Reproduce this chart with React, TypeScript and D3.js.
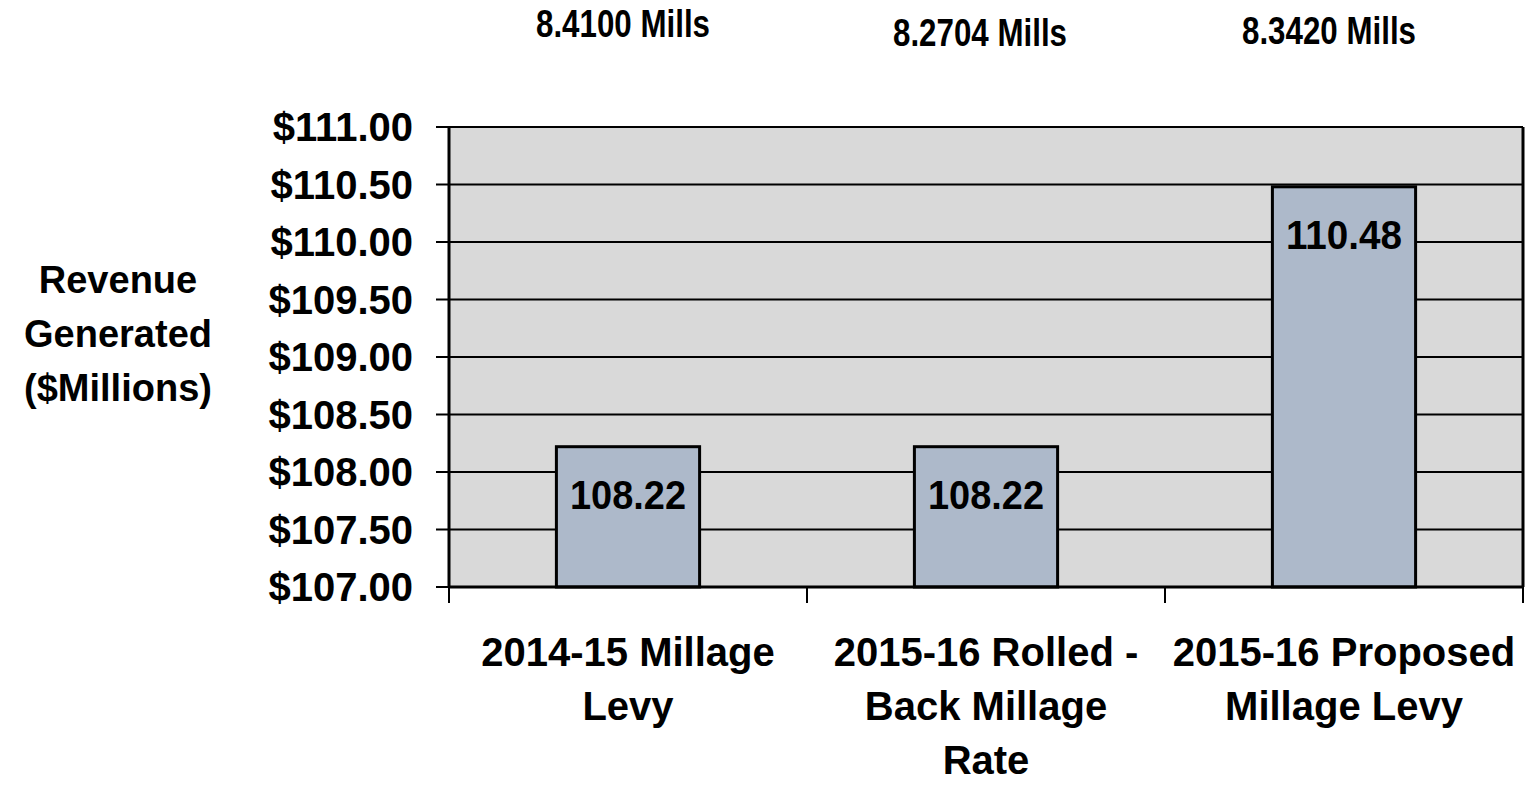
import React, { useEffect, useRef } from 'react';
import * as d3 from 'd3';

const categories = [
  ['2014-15 Millage', 'Levy'],
  ['2015-16 Rolled -', 'Back Millage', 'Rate'],
  ['2015-16 Proposed', 'Millage Levy'],
];
const revenue = [108.22, 108.22, 110.48];
const millRates = ['8.4100 Mills', '8.2704 Mills', '8.3420 Mills'];
const yTicks = [107, 107.5, 108, 108.5, 109, 109.5, 110, 110.5, 111];
const yTitle = ['Revenue', 'Generated', '($Millions)'];

const FONT = '"Liberation Sans", Arial, sans-serif';

const App = () => {
  const ref = useRef<SVGSVGElement>(null);

  useEffect(() => {
    const svg = d3.select(ref.current);
    svg.selectAll('*').remove();

    const width = 1530;
    const height = 785;
    const margin = { top: 127, right: 7, bottom: 198, left: 449 };

    svg.attr('width', width).attr('height', height);

    const x = d3.scaleBand<number>()
      .domain(d3.range(categories.length))
      .range([margin.left, width - margin.right])
      .paddingInner(0.6)
      .paddingOuter(0.3);

    const y = d3.scaleLinear()
      .domain([107, 111])
      .range([height - margin.bottom, margin.top]);

    const step = x.step();
    const x0 = margin.left;
    const x1 = width - margin.right;

    // plot background
    svg.append('rect')
      .attr('x', x0)
      .attr('y', y(111))
      .attr('width', x1 - x0)
      .attr('height', y(107) - y(111))
      .attr('fill', '#d9d9d9');

    // gridlines + y ticks
    svg.append('g')
      .selectAll('line')
      .data(yTicks)
      .join('line')
      .attr('x1', x0 - 13)
      .attr('x2', x1)
      .attr('y1', d => y(d))
      .attr('y2', d => y(d))
      .attr('stroke', '#000')
      .attr('stroke-width', 2);

    svg.append('g')
      .selectAll('text')
      .data(yTicks)
      .join('text')
      .attr('x', 413)
      .attr('y', d => y(d))
      .attr('dy', '0.36em')
      .attr('text-anchor', 'end')
      .attr('font-family', FONT)
      .attr('font-weight', 'bold')
      .attr('font-size', 40)
      .text(d => `$${d.toFixed(2)}`);

    // right border
    svg.append('line')
      .attr('x1', x1).attr('x2', x1)
      .attr('y1', y(111)).attr('y2', y(107))
      .attr('stroke', '#000').attr('stroke-width', 3);

    // bars
    svg.append('g')
      .selectAll('rect')
      .data(revenue)
      .join('rect')
      .attr('x', (d, i) => x(i)!)
      .attr('y', d => y(d))
      .attr('width', x.bandwidth())
      .attr('height', d => y(107) - y(d))
      .attr('fill', '#adb9ca')
      .attr('stroke', '#000')
      .attr('stroke-width', 3);

    // value labels
    svg.append('g')
      .selectAll('text')
      .data(revenue)
      .join('text')
      .attr('x', (d, i) => x(i)! + x.bandwidth() / 2)
      .attr('y', d => y(d) + 62)
      .attr('text-anchor', 'middle')
      .attr('font-family', FONT)
      .attr('font-weight', 'bold')
      .attr('font-size', 40)
      .attr('textLength', 116)
      .attr('lengthAdjust', 'spacingAndGlyphs')
      .text(d => d.toFixed(2));

    // axes lines
    svg.append('line')
      .attr('x1', x0).attr('x2', x0)
      .attr('y1', y(111)).attr('y2', y(107))
      .attr('stroke', '#000').attr('stroke-width', 3);

    svg.append('line')
      .attr('x1', x0).attr('x2', x1)
      .attr('y1', y(107)).attr('y2', y(107))
      .attr('stroke', '#000').attr('stroke-width', 3);

    // x ticks at category boundaries
    svg.append('g')
      .selectAll('line')
      .data(d3.range(categories.length + 1))
      .join('line')
      .attr('x1', i => x0 + i * step)
      .attr('x2', i => x0 + i * step)
      .attr('y1', y(107))
      .attr('y2', y(107) + 16)
      .attr('stroke', '#000')
      .attr('stroke-width', 2);

    // category labels
    svg.append('g')
      .selectAll('text')
      .data(categories)
      .join('text')
      .attr('text-anchor', 'middle')
      .attr('font-family', FONT)
      .attr('font-weight', 'bold')
      .attr('font-size', 40)
      .each(function (lines, i) {
        d3.select(this)
          .selectAll('tspan')
          .data(lines)
          .join('tspan')
          .attr('x', x(i)! + x.bandwidth() / 2)
          .attr('y', (l, j) => 666 + j * 54)
          .text(l => l);
      });

    // mill rate labels above
    const millY = [37, 46, 44];
    const millX = [623, 980, 1329];
    svg.append('g')
      .selectAll('text')
      .data(millRates)
      .join('text')
      .attr('x', (d, i) => millX[i])
      .attr('y', (d, i) => millY[i])
      .attr('text-anchor', 'middle')
      .attr('font-family', FONT)
      .attr('font-weight', 'bold')
      .attr('font-size', 38)
      .attr('textLength', 174)
      .attr('lengthAdjust', 'spacingAndGlyphs')
      .text(d => d);

    // y axis title
    svg.append('text')
      .attr('text-anchor', 'middle')
      .attr('font-family', FONT)
      .attr('font-weight', 'bold')
      .attr('font-size', 38)
      .selectAll('tspan')
      .data(yTitle)
      .join('tspan')
      .attr('x', 118)
      .attr('y', (d, i) => 293 + i * 54)
      .text(d => d);
  }, []);

  return (
    <div style={{ position: 'absolute', left: 0, top: 0 }}>
      <svg ref={ref} style={{ display: 'block' }}></svg>
    </div>
  );
};

export default App;
